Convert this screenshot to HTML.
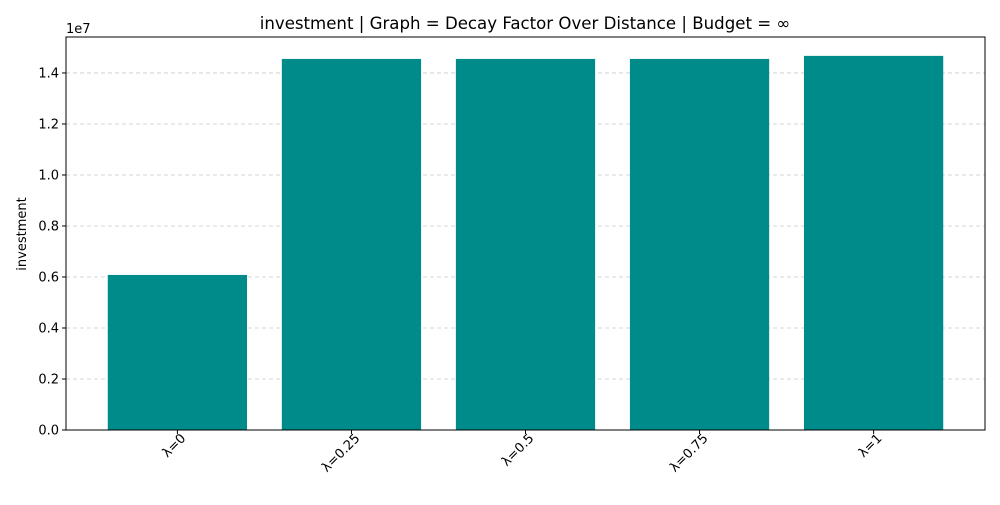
<!DOCTYPE html>
<html><head><meta charset="utf-8"><style>
body{margin:0;background:#fff;font-family:"Liberation Sans","DejaVu Sans",sans-serif;}
svg text{font-family:"DejaVu Sans","Liberation Sans",sans-serif;}
</style></head><body>
<svg id="chart" width="1000" height="500">
<rect x="66" y="37" width="919" height="393" fill="#fff"/>
<g id="grid"></g><g id="bars"></g><g id="axes"></g>
<text x="525" y="29" text-anchor="middle" font-size="16.6" fill="#000">investment | Graph = Decay Factor Over Distance | Budget = ∞</text>
<text x="66" y="33" font-size="13" fill="#000">1e7</text>
<text transform="translate(26,234) rotate(-90)" text-anchor="middle" font-size="13" fill="#000">investment</text>
</svg>
<script>
const categories=["λ=0","λ=0.25","λ=0.5","λ=0.75","λ=1"];
const values=[0.608,1.455,1.455,1.455,1.467];
const yTicks=[0,0.2,0.4,0.6,0.8,1.0,1.2,1.4];
const L=66,R=985,T=37,B=430,yMax=1.541;
const NS="http://www.w3.org/2000/svg";
const y=v=>B-(v/yMax)*(B-T);
const x=i=>L+(i+0.64)/5.28*(R-L);
const bw=0.8/5.28*(R-L);
function mk(tag,attrs,parent){const e=document.createElementNS(NS,tag);for(const k in attrs)e.setAttribute(k,attrs[k]);document.getElementById(parent).appendChild(e);return e;}
yTicks.forEach(t=>{
 const g=mk("line",{x1:L,x2:R,y1:y(t),y2:y(t),stroke:"#c8c8c8","stroke-dasharray":"4,3","stroke-width":0.8},"grid");
 
 
 const tk=mk("line",{x1:L-4,x2:L,y1:y(t),y2:y(t),stroke:"#000"},"axes");
 
 
 const tx=mk("text",{x:L-7,y:y(t)+4.5,"text-anchor":"end","font-size":13},"axes");
 tx.textContent=t.toFixed(1);
 
 
});
categories.forEach((c,i)=>{
 const r=mk("rect",{x:x(i)-bw/2,y:y(values[i]),width:bw,height:B-y(values[i]),fill:"#008b8b"},"bars");
 
 
 const tk=mk("line",{x1:x(i),x2:x(i),y1:B,y2:B+4,stroke:"#000"},"axes");
 
 
 const tx=mk("text",{transform:`translate(${x(i)+9},${B+9}) rotate(-45)`,"text-anchor":"end","font-size":13},"axes");
 tx.textContent=c;
 
 
});
const fr=mk("rect",{x:L,y:T,width:R-L,height:B-T,fill:"none",stroke:"#000","stroke-width":1},"axes");


</script>
</body></html>
